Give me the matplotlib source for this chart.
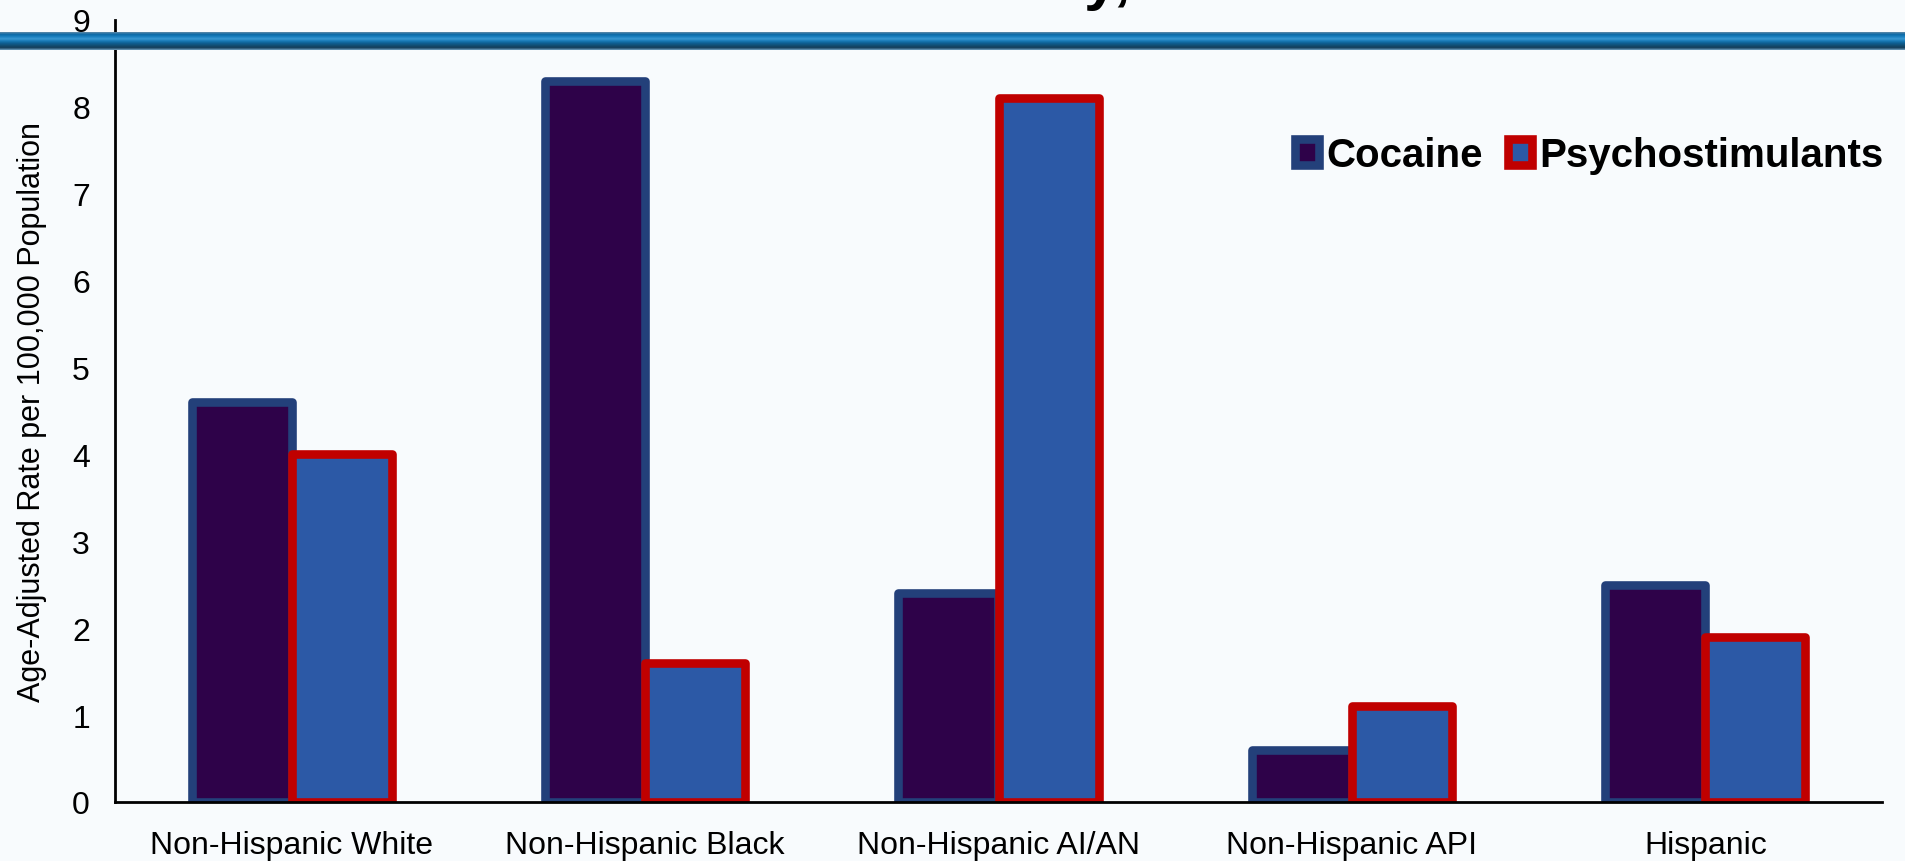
import numpy as np
import matplotlib.pyplot as plt
from matplotlib.colors import LinearSegmentedColormap

plt.rcParams['font.family'] = ['Liberation Sans', 'DejaVu Sans']

# rates per 100,000, by race/ethnicity
groups = ['Non-Hispanic White', 'Non-Hispanic Black', 'Non-Hispanic AI/AN',
          'Non-Hispanic API', 'Hispanic']
cocaine = [4.6, 8.3, 2.4, 0.6, 2.5]
psycho = [4.0, 1.6, 8.1, 1.1, 1.9]
yticks = [0, 1, 2, 3, 4, 5, 6, 7, 8, 9]

bg = '#f8fbfd'
fig = plt.figure(figsize=(19.06, 8.62), dpi=100, facecolor=bg)

# title text sits above the page, only the descenders show
fig.text(1132 / 1906, 1 + 2 / 862, 'Ethnicity,', ha='right', va='baseline',
         fontsize=44, fontweight='bold', color='black')

ax = fig.add_axes([115 / 1906, 59 / 862, (1882 - 115) / 1906, (803 - 21) / 862])
ax.set_facecolor(bg)

x = np.arange(len(groups))
w = 0.283
ax.bar(x - w / 2, cocaine, w, color='#2e0249', edgecolor='#23407a',
       linewidth=6.2, joinstyle='round', label='Cocaine', zorder=2)
ax.bar(x + w / 2, psycho, w, color='#2c59a6', edgecolor='#c00000',
       linewidth=6.2, joinstyle='round', label='Psychostimulants', zorder=3)

ax.set_xlim(-0.5, 4.5)
ax.set_ylim(0, 9)
ax.set_yticks(yticks)
ax.set_xticks(x)
ax.set_xticklabels(groups, fontsize=23)
ax.tick_params(axis='y', labelsize=23, length=0, pad=18)
ax.tick_params(axis='x', length=0, pad=20)
ax.set_ylabel('Age-Adjusted Rate per 100,000 Population', fontsize=22, labelpad=18)

for s in ['top', 'right']:
    ax.spines[s].set_visible(False)
for s in ['left', 'bottom']:
    ax.spines[s].set_linewidth(2)
    ax.spines[s].set_zorder(5)

leg = ax.legend(loc='center right', bbox_to_anchor=(1884 / 1906, 1 - 156 / 862),
                bbox_transform=fig.transFigure, ncol=2, frameon=False,
                prop={'weight': 'bold', 'size': 29}, handlelength=0.6,
                handleheight=0.6, handletextpad=0.2, columnspacing=0.6,
                borderpad=0, borderaxespad=0)

# glossy blue rule across the top
band = fig.add_axes([0, 1 - 51 / 862, 1, 18 / 862], zorder=10)
band_cols = ['#5d89a8', '#0b69a6', '#1a7fbf', '#3a98d2', '#1779b6',
             '#0e5f92', '#124e74', '#123c58', '#6e9dbd']
cmap = LinearSegmentedColormap.from_list('band', band_cols)
band.imshow(np.linspace(0, 1, 60).reshape(-1, 1), aspect='auto', cmap=cmap,
            extent=[0, 1, 0, 1], origin='upper')
band.axis('off')

fig.savefig('out.png', dpi=100, facecolor=bg)
